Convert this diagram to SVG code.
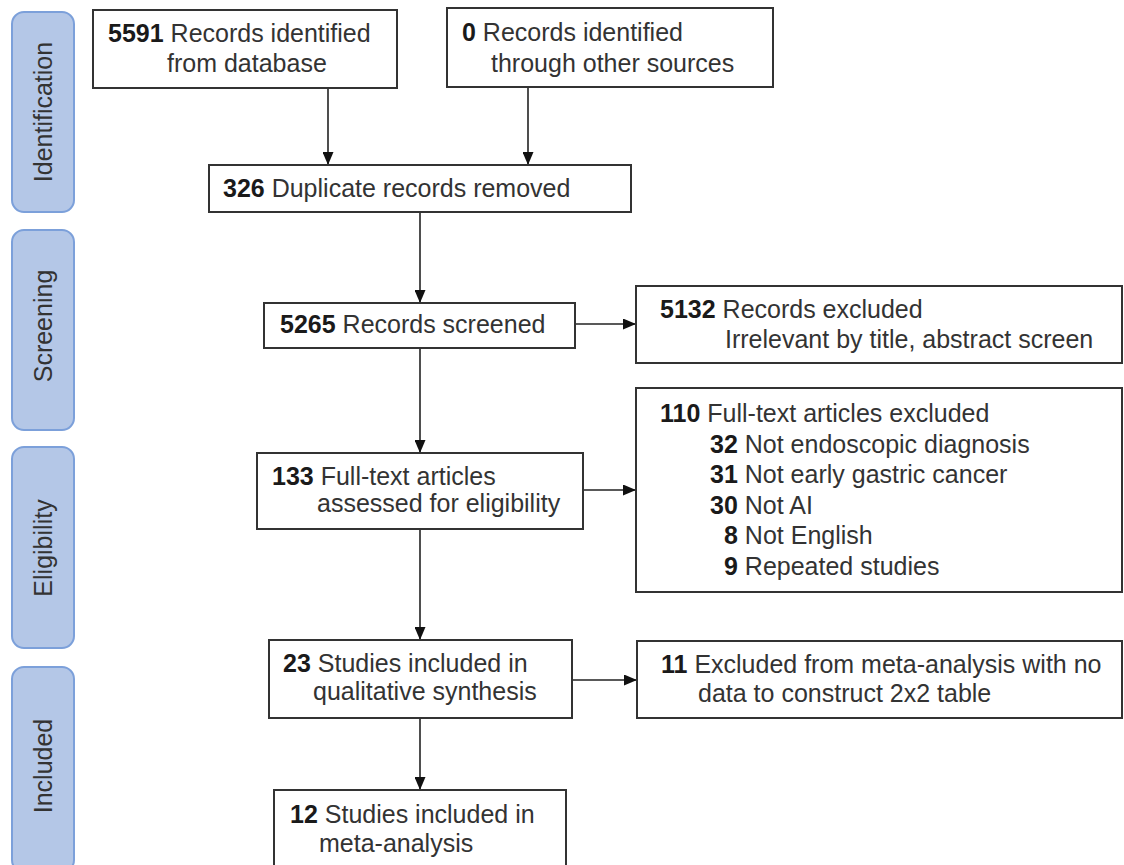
<svg xmlns="http://www.w3.org/2000/svg" width="1124" height="865" viewBox="0 0 1124 865">
<defs>
<style>
.bar{fill:#b4c7e7;stroke:#7ca0da;stroke-width:2}
.bl{font-family:"Liberation Sans",Arial,sans-serif;font-size:25px;fill:#333;text-anchor:middle}
.box{fill:#fff;stroke:#333;stroke-width:2}
.t{font-family:"Liberation Sans",Arial,sans-serif;font-size:25px;fill:#333}
.t tspan.b{font-weight:bold;fill:#1a1a1a}
.c{stroke:#222;stroke-width:1.6;fill:none;marker-end:url(#ah)}
</style>
<marker id="ah" viewBox="0 0 13 11" refX="13" refY="5.5" markerWidth="13" markerHeight="11" markerUnits="userSpaceOnUse" orient="auto">
<path d="M0,0 L13,5.5 L0,11 z" fill="#111"/>
</marker>
</defs>
<rect width="1124" height="865" fill="#fff"/>
<g id="phase-identification">
<rect class="bar" x="12" y="12" width="62" height="200" rx="12"/>
<text class="bl" transform="translate(52,112) rotate(-90)">Identification</text>
</g>
<g id="phase-screening">
<rect class="bar" x="12" y="230" width="62" height="200" rx="12"/>
<text class="bl" transform="translate(52,326) rotate(-90)">Screening</text>
</g>
<g id="phase-eligibility">
<rect class="bar" x="12" y="447" width="62" height="201" rx="12"/>
<text class="bl" transform="translate(52,548) rotate(-90)">Eligibility</text>
</g>
<g id="phase-included">
<rect class="bar" x="12" y="667" width="62" height="205" rx="12"/>
<text class="bl" transform="translate(52,766) rotate(-90)">Included</text>
</g>
<g id="connectors">
<path class="c" d="M328,88 V165"/>
<path class="c" d="M528,87 V165"/>
<path class="c" d="M420,212 V303"/>
<path class="c" d="M575,324 H636"/>
<path class="c" d="M420,348 V453"/>
<path class="c" d="M583,490 H636"/>
<path class="c" d="M420,529 V640"/>
<path class="c" d="M572,680 H637"/>
<path class="c" d="M420,718 V790"/>
</g>
<g id="n-db">
<rect class="box" x="93" y="10" width="304" height="78"/>
<text class="t" x="108" y="42"><tspan class="b">5591</tspan> Records identified</text>
<text class="t" x="167" y="72">from database</text>
</g>
<g id="n-other">
<rect class="box" x="447" y="8" width="326" height="79"/>
<text class="t" x="462" y="41"><tspan class="b">0</tspan> Records identified</text>
<text class="t" x="491" y="72">through other sources</text>
</g>
<g id="n-dup">
<rect class="box" x="209" y="165" width="422" height="47"/>
<text class="t" x="223" y="197"><tspan class="b">326</tspan> Duplicate records removed</text>
</g>
<g id="n-screened">
<rect class="box" x="264" y="303" width="311" height="45"/>
<text class="t" x="280" y="333"><tspan class="b">5265</tspan> Records screened</text>
</g>
<g id="n-excl1">
<rect class="box" x="636" y="286" width="486" height="77"/>
<text class="t" x="660" y="318"><tspan class="b">5132</tspan> Records excluded</text>
<text class="t" x="725" y="348">Irrelevant by title, abstract screen</text>
</g>
<g id="n-fulltext">
<rect class="box" x="257" y="453" width="326" height="76"/>
<text class="t" x="272" y="485"><tspan class="b">133</tspan> Full-text articles</text>
<text class="t" x="317" y="512">assessed for eligibility</text>
</g>
<g id="n-excl2">
<rect class="box" x="636" y="388" width="486" height="204"/>
<text class="t" x="660" y="422"><tspan class="b">110</tspan> Full-text articles excluded</text>
<text class="t" x="710" y="452.6"><tspan class="b">32</tspan> Not endoscopic diagnosis</text>
<text class="t" x="710" y="483.2"><tspan class="b">31</tspan> Not early gastric cancer</text>
<text class="t" x="710" y="513.8"><tspan class="b">30</tspan> Not AI</text>
<text class="t" x="724" y="544.4"><tspan class="b">8</tspan> Not English</text>
<text class="t" x="724" y="575"><tspan class="b">9</tspan> Repeated studies</text>
</g>
<g id="n-qual">
<rect class="box" x="269" y="640" width="303" height="78"/>
<text class="t" x="283" y="672"><tspan class="b">23</tspan> Studies included in</text>
<text class="t" x="313" y="700">qualitative synthesis</text>
</g>
<g id="n-excl3">
<rect class="box" x="637" y="641" width="485" height="77"/>
<text class="t" x="661" y="673"><tspan class="b">11</tspan> Excluded from meta-analysis with no</text>
<text class="t" x="698" y="702">data to construct 2x2 table</text>
</g>
<g id="n-meta">
<rect class="box" x="274" y="790" width="292" height="90"/>
<text class="t" x="290" y="823"><tspan class="b">12</tspan> Studies included in</text>
<text class="t" x="319" y="852">meta-analysis</text>
</g>
</svg>
